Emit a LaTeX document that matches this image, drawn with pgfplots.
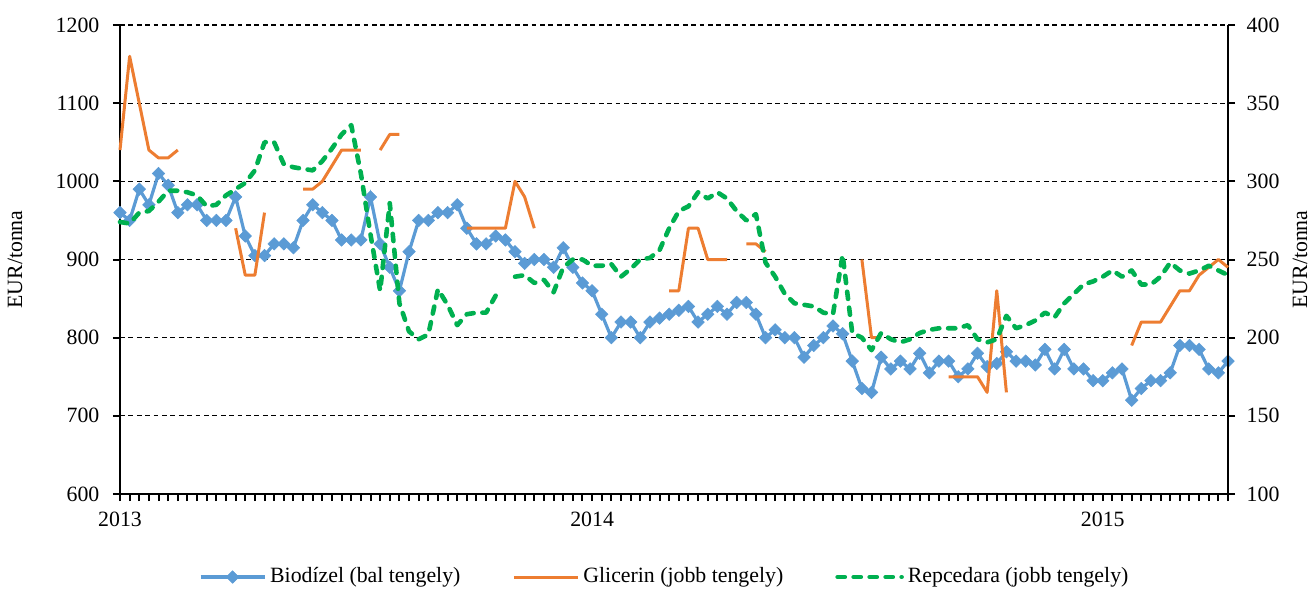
\documentclass[border=0pt,11pt]{standalone}
\usepackage{fontspec}
\setmainfont{Liberation Serif}
\usepackage{pgfplots}
\usepackage{pgfplotstable}
\pgfplotsset{compat=1.18}
\definecolor{cBio}{HTML}{5B9BD5}
\definecolor{cGli}{HTML}{ED7D31}
\definecolor{cRep}{HTML}{00B050}

\pgfplotstableread{
i bio gli rep
0 960 320 274
1 950 380 273
2 990 350 280
3 970 320 281
4 1010 315 287
5 995 315 294
6 960 320 294
7 970 nan 293
8 970 nan 291
9 950 nan 284
10 950 nan 285
11 950 nan 291
12 980 270 295
13 930 240 299
14 905 240 307
15 905 280 325
16 920 nan 325
17 920 nan 311
18 915 nan 309
19 950 295 308
20 970 295 307
21 960 300 313
22 950 310 321
23 925 320 330
24 925 320 336
25 925 320 305
26 980 nan 266
27 920 320 230
28 890 330 286
29 860 330 222
30 910 nan 204
31 950 nan 199
32 950 nan 202
33 960 nan 231
34 960 nan 221
35 970 nan 208
36 940 270 215
37 920 270 216
38 920 270 216
39 930 270 227
40 925 270 nan
41 910 300 239
42 895 290 240
43 900 270 235
44 900 nan 237
45 890 nan 229
46 915 nan 245
47 890 nan 250
48 870 nan 250
49 860 nan 246
50 830 nan 246
51 800 nan 247
52 820 nan 239
53 820 nan 244
54 800 nan 250
55 820 nan 251
56 825 nan 256
57 830 230 270
58 835 230 281
59 840 270 284
60 820 270 293
61 830 250 289
62 840 250 293
63 830 250 289
64 845 nan 281
65 845 260 275
66 830 260 279
67 800 255 248
68 810 nan 239
69 800 nan 228
70 800 nan 222
71 775 nan 221
72 790 nan 220
73 800 nan 216
74 815 nan 215
75 805 nan 253
76 770 nan 203
77 735 250 200
78 730 200 192
79 775 200 203
80 760 nan 199
81 770 nan 197
82 760 nan 199
83 780 nan 203
84 755 nan 205
85 770 nan 206
86 770 175 206
87 750 175 206
88 760 175 208
89 780 175 199
90 763 165 197
91 767 230 199
92 782 165 214
93 770 nan 206
94 770 nan 208
95 765 nan 211
96 785 nan 216
97 760 nan 213
98 785 nan 222
99 760 nan 228
100 760 nan 234
101 745 nan 236
102 745 nan 239
103 755 nan 243
104 760 nan 239
105 720 195 243
106 735 210 234
107 745 210 234
108 745 210 239
109 755 220 248
110 790 230 243
111 790 230 241
112 785 240 243
113 760 245 246
114 755 250 243
115 770 245 240
}\datatable

\pgfplotsset{
  common/.style={
    width=554bp, height=234.5bp, scale only axis,
    xmin=0, xmax=115,
    clip=false,
    unbounded coords=jump,
    tick align=outside,
    major tick length=3.5bp, minor tick length=3.5bp,
    tick style={black, line width=1bp},
    axis line style={black, line width=1.2bp},
    /pgf/number format/assume math mode=true,
    /pgf/number format/set thousands separator={},
    tick label style={font=\normalsize},
  },
  biostyle/.style={color=cBio, line width=1.6bp, mark=square*, mark size=2.2bp,
    mark options={rotate=45, fill=cBio, draw=cBio, line width=0.3bp, solid}},
  glistyle/.style={color=cGli, line width=1.5bp, line join=round},
  repstyle/.style={color=cRep, line width=2.3bp, line cap=round, line join=round, dash pattern=on 3.6bp off 4.4bp},
}

\begin{document}
\begin{tikzpicture}
\path[use as bounding box] (-60bp,-48bp) rectangle (595bp,247bp);
\begin{axis}[
  common,
  axis x line*=bottom,
  axis y line*=left,
  ymin=600, ymax=1200,
  ytick={600,700,...,1200},
  xtick={0,1,...,115},
  xticklabel={\ifnum\ticknum=0 2013\else\ifnum\ticknum=49 2014\else\ifnum\ticknum=102 2015\fi\fi\fi},
  xticklabel style={yshift=-1.5bp},
  yticklabel style={xshift=-3bp},
  ymajorgrids=true,
  major grid style={black, line width=0.6bp, dash pattern=on 2.4bp off 1.8bp},
  ylabel={EUR/tonna},
  ylabel style={at={(axis description cs:-0.0948,0.5)}, anchor=center},
]
\addplot[biostyle] table[x=i, y=bio] {\datatable};
\end{axis}
\begin{axis}[
  common,
  axis x line=none,
  axis y line*=right,
  ymin=100, ymax=400,
  ytick={100,150,...,400},
  yticklabel style={xshift=2bp},
  ylabel={EUR/tonna},
  ylabel style={at={(axis description cs:1.065,0.5)}, anchor=center, rotate=0},
  legend columns=3,
  legend style={at={(axis description cs:0.4925,-0.177)}, anchor=center,
    draw=none, fill=none, font=\normalsize,
    /tikz/every even column/.append style={column sep=24bp},
    cells={anchor=west}},
  legend image code/.code={\draw[mark repeat=2,mark phase=2,#1] plot coordinates {(0bp,0bp) (16bp,0bp) (32bp,0bp)};},
]
\addlegendimage{biostyle}
\addlegendentry{Biodízel (bal tengely)}
\addplot[glistyle] table[x=i, y=gli] {\datatable};
\addlegendentry{Glicerin (jobb tengely)}
\addplot[repstyle] table[x=i, y=rep] {\datatable};
\addlegendentry{Repcedara (jobb tengely)}
\end{axis}
\end{tikzpicture}
\end{document}
